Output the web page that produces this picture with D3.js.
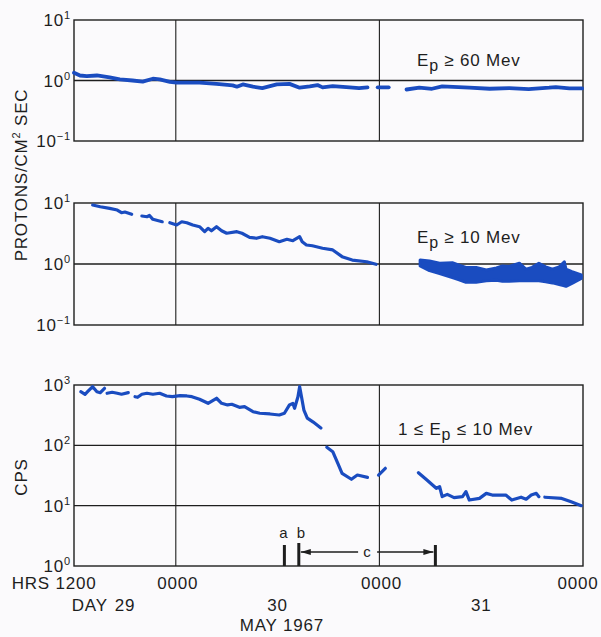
<!DOCTYPE html>
<html>
<head>
<meta charset="utf-8">
<script src="https://cdn.jsdelivr.net/npm/d3@7"></script>
<style>
  body { margin: 0; background: #fbfafc; }
  svg { display: block; font-family: "Liberation Sans", Arial, sans-serif; }
</style>
</head>
<body>
<svg id="chart"></svg>
<script>
// time is in hours after 1200 UT, 29 May 1967

// Ep >= 60 Mev, protons/cm2 sec
const p60Segments = [
  [[0,1.34],[0.7,1.21],[1.5,1.18],[2.7,1.21],[4.2,1.13],[5.4,1.04],[6.9,1.0],[8.1,0.96],[9.3,1.07],[10.1,1.04],[11.3,0.95],[12.1,0.92],[14.8,0.92],[16.8,0.88],[18.7,0.83],[19.2,0.79],[19.9,0.86],[21.1,0.79],[22.2,0.75],[23.9,0.86],[25.4,0.88],[26.6,0.76],[27.8,0.80],[28.7,0.84],[29.3,0.77],[30.5,0.81],[32.5,0.77],[33.6,0.75],[34.6,0.77]],
  [[35.8,0.77],[37.1,0.77]],
  [[39.2,0.71],[40.7,0.76],[42.2,0.73],[43.4,0.80],[46.6,0.76],[49,0.73],[51.3,0.75],[53.6,0.72],[56,0.76],[56.8,0.78],[58.4,0.74],[59.9,0.74]]
];

// Ep >= 10 Mev, protons/cm2 sec
const p10Segments = [
  [[2.2,9.27],[3.1,8.69],[4.2,8.18],[5.1,7.67],[5.6,6.93],[6.0,7.11],[6.8,6.53]],
  [[8.0,6.12],[8.6,5.96],[8.9,6.24],[9.3,5.40],[10.4,4.93]],
  [[11.3,4.75],[12.1,4.36],[12.7,4.93],[13.3,4.75],[14.0,4.36],[14.8,4.09],[15.4,3.39],[15.8,3.85],[16.2,3.51],[16.8,4.09],[17.4,3.51],[18.0,3.19],[19.2,3.39],[19.8,3.19],[20.7,2.74],[21.5,2.64],[22.2,2.80],[23.1,2.64],[24.2,2.32],[25.1,2.54],[25.8,2.41],[26.6,2.80],[26.9,2.32],[27.4,2.05],[28.1,1.99],[29.3,1.81],[30.5,1.70],[31.6,1.32],[32.8,1.16],[34.5,1.09],[35.6,0.99]]
];

// Ep >= 10 Mev on day 31: a band between low and high values
const bandHours = [40.8,41.9,43.1,44.6,45.4,46.2,47.4,48.6,49.8,50.5,51.3,52.5,53.3,54.0,54.8,55.6,56.4,57.2,57.8,58.0,58.7,59.8];
const bandHigh  = [1.16,1.12,1.03,1.05,0.96,0.88,0.88,0.80,0.86,0.93,0.91,1.03,0.82,0.88,1.03,0.90,0.82,0.90,1.09,0.82,0.75,0.66];
const bandLow   = [0.93,0.78,0.70,0.60,0.55,0.50,0.50,0.53,0.54,0.52,0.52,0.53,0.53,0.53,0.53,0.51,0.49,0.46,0.44,0.43,0.48,0.58];

// 1 <= Ep <= 10 Mev, counts per second
const cpsSegments = [
  [[0.8,774],[1.3,702],[1.6,774],[2.2,938],[2.7,774],[3.1,746],[3.6,882]],
  [[3.9,729],[4.5,757],[5.1,729],[5.6,702],[6.4,746]],
  [[7.2,640],[7.5,625],[8.0,702],[8.6,729],[9.3,702],[10.1,729],[10.9,658],[11.6,640],[12.5,665],[13.3,658],[13.9,640],[14.8,579],[15.8,497],[16.8,603],[17.4,497],[18.1,467],[18.6,479],[19.5,427],[20.1,437],[21.1,361],[21.9,340],[23.1,331],[24.2,318],[24.8,340],[25.4,467],[25.8,497],[26.0,411],[26.4,640],[26.6,938],[26.8,658],[27.1,385],[27.5,283],[28.2,243],[29.1,194]],
  [[29.8,92.8],[30.5,78.5],[31.1,50.4],[31.6,34.4],[32.7,27.4],[33.4,32.2],[34.6,29.5]],
  [[35.9,32.2],[36.7,41.6]],
  [[40.6,35.2],[41.6,26.6],[42.7,19.4],[43.1,20.6],[43.4,14.1],[44.0,15.4],[44.8,13.6],[45.8,14.1],[46.2,17.1],[46.6,12.4],[47.8,13.2],[48.6,16.0],[49.3,15.0],[50.9,15.0],[51.6,12.4],[52.7,13.8],[53.3,12.8],[53.9,15.0],[54.5,16.0],[54.8,14.1]],
  [[55.5,13.8],[57.5,13.2],[58.6,11.6],[59.8,9.98]]
];

const hourTicks = [0, 12, 36, 60];
const hourLabels = ["1200", "0000", "0000", "0000"];
const dayTicks = [6, 24, 48];
const dayLabels = ["29", "30", "31"];
const events = { a: 24.8, b: 26.5, cEnd: 42.6 };

const width = 601, height = 637;
const blue = "#1a4cc0";
const ink = "#1e1e1e";

const svg = d3.select("#chart").attr("width", width).attr("height", height);

const x = d3.scaleLinear().domain([0, 60]).range([74, 583]);

const panels = [
  { top: 20,  bottom: 141, domain: [0.1, 10],  series: p60Segments, label: ["", "≥ 60 Mev"], lx: 417, ly: 66 },
  { top: 203, bottom: 325, domain: [0.1, 10],  series: p10Segments, label: ["", "≥ 10 Mev"], lx: 417, ly: 243 },
  { top: 385, bottom: 566, domain: [1, 1000],  series: cpsSegments, label: ["1 ≤ ", "≤ 10 Mev"], lx: 398, ly: 435 }
];

panels.forEach((p, i) => {
  const y = d3.scaleLog().domain(p.domain).range([p.bottom, p.top]);
  const g = svg.append("g");
  const decades = d3.range(Math.log10(p.domain[0]), Math.log10(p.domain[1]) + 1).map(e => Math.pow(10, e));

  // horizontal grid at inner decades
  g.selectAll(".hgrid")
    .data(decades.slice(1, -1))
    .enter().append("line")
    .attr("x1", x(0)).attr("x2", x(60))
    .attr("y1", d => y(d)).attr("y2", d => y(d))
    .attr("stroke", ink).attr("stroke-width", 1.4);

  // vertical grid at 0000
  g.selectAll(".vgrid")
    .data([12, 36])
    .enter().append("line")
    .attr("x1", d => x(d)).attr("x2", d => x(d))
    .attr("y1", p.top).attr("y2", p.bottom)
    .attr("stroke", ink).attr("stroke-width", 1.1);

  g.append("rect")
    .attr("x", x(0)).attr("y", p.top)
    .attr("width", x(60) - x(0)).attr("height", p.bottom - p.top)
    .attr("fill", "none").attr("stroke", ink).attr("stroke-width", 1.4);

  // y tick labels as 10^n
  const lab = g.selectAll(".ytick")
    .data(decades)
    .enter().append("text")
    .attr("x", 71).attr("y", d => y(d) + 6)
    .attr("text-anchor", "end")
    .attr("font-size", 17).attr("fill", ink).attr("letter-spacing", 0.8);
  lab.append("tspan").text("10");
  lab.append("tspan").attr("dy", -7).attr("font-size", 11).text(d => Math.round(Math.log10(d)).toString().replace("-", "−"));

  // data
  const line = d3.line().x(d => x(d[0])).y(d => y(d[1]));
  g.selectAll(".seg")
    .data(p.series)
    .enter().append("path")
    .attr("d", line)
    .attr("fill", "none")
    .attr("stroke", blue)
    .attr("stroke-width", i === 0 ? 3.8 : 3.2)
    .attr("stroke-linejoin", "round")
    .attr("stroke-linecap", "round");

  if (i === 1) {
    const area = d3.area()
      .x((d, j) => x(bandHours[j]))
      .y0((d, j) => y(bandLow[j]))
      .y1((d, j) => y(bandHigh[j]));
    g.append("path")
      .attr("d", area(bandHours))
      .attr("fill", blue)
      .attr("stroke", blue)
      .attr("stroke-width", 3)
      .attr("stroke-linejoin", "round");
  }

  // panel label
  const t = g.append("text")
    .attr("x", p.lx).attr("y", p.ly)
    .attr("font-size", 17).attr("fill", ink).attr("letter-spacing", 0.8);
  t.append("tspan").text(p.label[0] + "E");
  t.append("tspan").attr("dy", 5).attr("font-size", 16).text("p");
  t.append("tspan").attr("dy", -5).text(" " + p.label[1]);
});

// y axis titles
const title1 = svg.append("text")
  .attr("transform", "translate(27,175) rotate(-90)")
  .attr("text-anchor", "middle")
  .attr("font-size", 17).attr("fill", ink).attr("letter-spacing", 0.8);
title1.append("tspan").text("PROTONS/CM");
title1.append("tspan").attr("dy", -7).attr("font-size", 11).text("2");
title1.append("tspan").attr("dy", 7).text(" SEC");

svg.append("text")
  .attr("transform", "translate(27,477) rotate(-90)")
  .attr("text-anchor", "middle")
  .attr("font-size", 17).attr("fill", ink).attr("letter-spacing", 0.8)
  .text("CPS");

// x axis: hours and days
const xb = 566;
svg.selectAll(".hlab")
  .data(hourTicks)
  .enter().append("text")
  .attr("x", (d, i) => x(d) + (i === 3 ? -5 : 2))
  .attr("y", xb + 23)
  .attr("text-anchor", "middle")
  .attr("font-size", 17).attr("fill", ink).attr("letter-spacing", 0.8)
  .text((d, i) => hourLabels[i]);

svg.append("text")
  .attr("x", x(0) - 24).attr("y", xb + 23)
  .attr("text-anchor", "end")
  .attr("font-size", 17).attr("fill", ink).attr("letter-spacing", 0.8)
  .text("HRS");

svg.selectAll(".dlab")
  .data(dayTicks)
  .enter().append("text")
  .attr("x", d => x(d))
  .attr("y", xb + 45)
  .attr("text-anchor", "middle")
  .attr("font-size", 17).attr("fill", ink).attr("letter-spacing", 0.8)
  .text((d, i) => dayLabels[i]);

svg.append("text")
  .attr("x", x(dayTicks[0]) - 17).attr("y", xb + 45)
  .attr("text-anchor", "end")
  .attr("font-size", 17).attr("fill", ink).attr("letter-spacing", 0.8)
  .text("DAY");

svg.append("text")
  .attr("x", x(24.5)).attr("y", xb + 65)
  .attr("text-anchor", "middle")
  .attr("font-size", 17).attr("fill", ink).attr("letter-spacing", 0.8)
  .text("MAY 1967");

// event markers a, b and interval c
const ev = svg.append("g").attr("stroke", ink).attr("stroke-width", 3);
ev.append("line").attr("x1", x(events.a)).attr("x2", x(events.a)).attr("y1", xb - 21).attr("y2", xb);
ev.append("line").attr("x1", x(events.b)).attr("x2", x(events.b)).attr("y1", xb - 23).attr("y2", xb);
ev.append("line").attr("x1", x(events.cEnd)).attr("x2", x(events.cEnd)).attr("y1", xb - 21).attr("y2", xb);

const cMid = (x(events.b) + x(events.cEnd)) / 2;
const ay = xb - 14;
const arr = svg.append("g").attr("stroke", ink).attr("stroke-width", 1.4);
arr.append("line").attr("x1", x(events.b) + 2).attr("x2", cMid - 9).attr("y1", ay).attr("y2", ay);
arr.append("line").attr("x1", cMid + 10).attr("x2", x(events.cEnd) - 2).attr("y1", ay).attr("y2", ay);
svg.append("path")
  .attr("d", `M${x(events.b) + 2},${ay} l10,-3 l0,6 z`)
  .attr("fill", ink);
svg.append("path")
  .attr("d", `M${x(events.cEnd) - 2},${ay} l-10,-3 l0,6 z`)
  .attr("fill", ink);

svg.selectAll(".evlab")
  .data([["a", events.a], ["b", events.b]])
  .enter().append("text")
  .attr("x", d => x(d[1]) + (d[0] === "a" ? -1 : 2))
  .attr("y", xb - 28)
  .attr("text-anchor", "middle")
  .attr("font-size", 15).attr("fill", ink)
  .text(d => d[0]);

svg.append("text")
  .attr("x", cMid).attr("y", ay + 5)
  .attr("text-anchor", "middle")
  .attr("font-size", 15).attr("fill", ink)
  .text("c");
</script>
</body>
</html>
